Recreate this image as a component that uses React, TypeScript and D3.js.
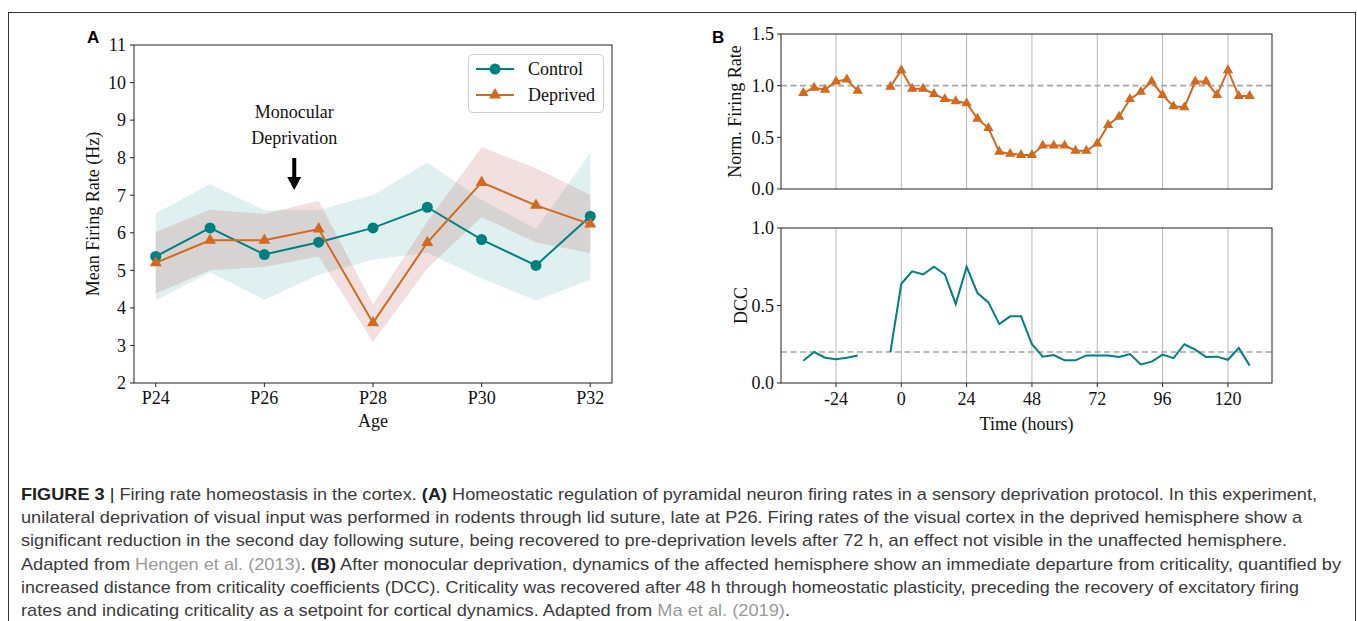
import React from 'react';
import * as d3 from 'd3';

// Panel A: mean firing rate by age
const ages = [24, 25, 26, 27, 28, 29, 30, 31, 32];
const ageTicks = [24, 26, 28, 30, 32];
const rateTicks = [2, 3, 4, 5, 6, 7, 8, 9, 10, 11];
const controlMean = [5.37, 6.13, 5.42, 5.75, 6.13, 6.68, 5.82, 5.13, 6.44];
const controlUpper = [6.52, 7.29, 6.6, 6.61, 7.0, 7.87, 6.88, 6.1, 8.12];
const controlLower = [4.2, 4.95, 4.22, 4.88, 5.28, 5.47, 4.78, 4.2, 4.75];
const deprivedMean = [5.2, 5.8, 5.8, 6.1, 3.6, 5.74, 7.34, 6.73, 6.23];
const deprivedUpper = [6.02, 6.61, 6.5, 6.85, 4.09, 6.3, 8.28, 7.72, 7.01];
const deprivedLower = [4.38, 5.0, 5.09, 5.37, 3.09, 5.05, 6.42, 5.74, 5.46];

// Panel B: time course after deprivation
const hourTicks = [-24, 0, 24, 48, 72, 96, 120];
const normTicks = [0, 0.5, 1.0, 1.5];
const dccTicks = [0, 0.5, 1.0];
const preHours = [-36, -32, -28, -24, -20, -16];
const postHours = [
  -4, 0, 4, 8, 12, 16, 20, 24, 28, 32, 36, 40, 44, 48, 52, 56, 60, 64, 68, 72, 76, 80, 84, 88, 92, 96, 100,
  104, 108, 112, 116, 120, 124, 128,
];
const normRatePre = [0.93, 0.98, 0.96, 1.04, 1.06, 0.95];
const normRatePost = [
  0.99, 1.15, 0.97, 0.97, 0.92, 0.87, 0.85, 0.83, 0.68, 0.59, 0.36, 0.34, 0.33, 0.33, 0.42, 0.42, 0.42, 0.37,
  0.37, 0.44, 0.62, 0.7, 0.87, 0.94, 1.04, 0.91, 0.8, 0.79, 1.04, 1.04, 0.91, 1.15, 0.9, 0.9,
];
const dccPre = [0.144, 0.2, 0.163, 0.153, 0.163, 0.178];
const dccPost = [
  0.2, 0.64, 0.72, 0.7, 0.75, 0.7, 0.51, 0.75, 0.58, 0.52, 0.38, 0.43, 0.43, 0.25, 0.17, 0.18, 0.146, 0.146,
  0.178, 0.178, 0.178, 0.168, 0.187, 0.12, 0.138, 0.183, 0.16, 0.25, 0.215, 0.168, 0.17, 0.15, 0.226, 0.112,
];

const captionLines: [string, string][][] = [
  [
    ['FIGURE 3 ', 'bold'],
    ['| ', 'bar'],
    ['Firing rate homeostasis in the cortex. ', 'plain'],
    ['(A)', 'bold'],
    [' Homeostatic regulation of pyramidal neuron firing rates in a sensory deprivation protocol. In this experiment,', 'plain'],
  ],
  [['unilateral deprivation of visual input was performed in rodents through lid suture, late at P26. Firing rates of the visual cortex in the deprived hemisphere show a', 'plain']],
  [['significant reduction in the second day following suture, being recovered to pre-deprivation levels after 72 h, an effect not visible in the unaffected hemisphere.', 'plain']],
  [
    ['Adapted from ', 'plain'],
    ['Hengen et al. (2013)', 'link'],
    ['. ', 'plain'],
    ['(B)', 'bold'],
    [' After monocular deprivation, dynamics of the affected hemisphere show an immediate departure from criticality, quantified by', 'plain'],
  ],
  [['increased distance from criticality coefficients (DCC). Criticality was recovered after 48 h through homeostatic plasticity, preceding the recovery of excitatory firing', 'plain']],
  [
    ['rates and indicating criticality as a setpoint for cortical dynamics. Adapted from ', 'plain'],
    ['Ma et al. (2019)', 'link'],
    ['.', 'plain'],
  ],
];
const captionEnds = [1317, 1302, 1287, 1341, 1299, 790];

const TEAL = '#008080';
const ORANGE = '#d2691e';
const SERIF = '"Liberation Serif", "Times New Roman", serif';
const SANS = '"Liberation Sans", Arial, sans-serif';

const tri = d3.symbol().type(d3.symbolTriangle);

const PanelA: React.FC = () => {
  const left = 134, right = 612, top = 45, bottom = 383;
  const x = d3.scaleLinear().domain([23.6, 32.4]).range([left, right]);
  const y = d3.scaleLinear().domain([2, 11]).range([bottom, top]);

  const band = (upper: number[], lower: number[]) =>
    d3
      .area<number>()
      .x((d) => x(d))
      .y0((_, i) => y(lower[i]))
      .y1((_, i) => y(upper[i]))(ages) || '';
  const line = (vals: number[]) =>
    d3
      .line<number>()
      .x((d) => x(d))
      .y((_, i) => y(vals[i]))(ages) || '';

  const arrowX = x(26.55);

  return (
    <g>
      <path d={band(controlUpper, controlLower)} fill={TEAL} fillOpacity={0.12} />
      <path d={band(deprivedUpper, deprivedLower)} fill="#a52a2a" fillOpacity={0.145} />
      <path d={line(controlMean)} fill="none" stroke={TEAL} strokeWidth={2} />
      {ages.map((a, i) => (
        <circle key={'c' + a} cx={x(a)} cy={y(controlMean[i])} r={5.5} fill={TEAL} />
      ))}
      <path d={line(deprivedMean)} fill="none" stroke={ORANGE} strokeWidth={2} />
      {ages.map((a, i) => (
        <path key={'d' + a} d={tri.size(62)() || ''} transform={`translate(${x(a)},${y(deprivedMean[i])})`} fill={ORANGE} />
      ))}

      <rect x={left} y={top} width={right - left} height={bottom - top} fill="none" stroke="#222" strokeWidth={1} />
      {rateTicks.map((t) => (
        <g key={'yt' + t}>
          <line x1={left - 4} x2={left} y1={y(t)} y2={y(t)} stroke="#222" />
          <text x={left - 8} y={y(t)} dy="0.35em" textAnchor="end" fontSize={18} fontFamily={SERIF} fill="#111">
            {t}
          </text>
        </g>
      ))}
      {ageTicks.map((t) => (
        <g key={'xt' + t}>
          <line x1={x(t)} x2={x(t)} y1={bottom} y2={bottom + 4} stroke="#222" />
          <text x={x(t)} y={bottom + 21} textAnchor="middle" fontSize={18} fontFamily={SERIF} fill="#111">
            {'P' + t}
          </text>
        </g>
      ))}
      <text x={(left + right) / 2} y={427} textAnchor="middle" fontSize={18} fontFamily={SERIF} fill="#111">
        Age
      </text>
      <text
        transform={`translate(${99},${(top + bottom) / 2}) rotate(-90)`}
        textAnchor="middle"
        fontSize={18}
        fontFamily={SERIF}
        fill="#111"
      >
        Mean Firing Rate (Hz)
      </text>

      <text x={arrowX} y={118} textAnchor="middle" fontSize={18} fontFamily={SERIF} fill="#111">
        Monocular
      </text>
      <text x={arrowX} y={144} textAnchor="middle" fontSize={18} fontFamily={SERIF} fill="#111">
        Deprivation
      </text>
      <rect x={arrowX - 2} y={158} width={4} height={20} fill="#000" />
      <path d={`M${arrowX - 7},177 L${arrowX + 7},177 L${arrowX},190 Z`} fill="#000" />

      <rect x={468.5} y={54.5} width={135} height={58} rx={4} fill="#fff" fillOpacity={0.8} stroke="#cfcfcf" />
      <line x1={476} x2={514} y1={69} y2={69} stroke={TEAL} strokeWidth={2} />
      <circle cx={495} cy={69} r={5.5} fill={TEAL} />
      <text x={528} y={69} dy="0.35em" fontSize={18} fontFamily={SERIF} fill="#111">
        Control
      </text>
      <line x1={476} x2={514} y1={95} y2={95} stroke={ORANGE} strokeWidth={2} />
      <path d={tri.size(62)() || ''} transform={`translate(495,95)`} fill={ORANGE} />
      <text x={528} y={95} dy="0.35em" fontSize={18} fontFamily={SERIF} fill="#111">
        Deprived
      </text>

      <text x={87} y={43} fontSize={17} fontWeight="bold" fontFamily={SANS} fill="#000">
        A
      </text>
    </g>
  );
};

const PanelB: React.FC = () => {
  const left = 781, right = 1272;
  const top1 = 34, bottom1 = 189, top2 = 228, bottom2 = 383;
  const x = d3.scaleLinear().domain([-44.2, 136.2]).range([left, right]);
  const y1 = d3.scaleLinear().domain([0, 1.5]).range([bottom1, top1]);
  const y2 = d3.scaleLinear().domain([0, 1.0]).range([bottom2, top2]);

  const seg = (hours: number[], vals: number[], y: d3.ScaleLinear<number, number>) =>
    d3
      .line<number>()
      .x((d) => x(d))
      .y((_, i) => y(vals[i]))(hours) || '';

  const grid = (top: number, bottom: number) =>
    hourTicks.map((t) => <line key={'g' + t + top} x1={x(t)} x2={x(t)} y1={top} y2={bottom} stroke="#b8b8b8" strokeWidth={1} />);

  const yAxis = (ticks: number[], y: d3.ScaleLinear<number, number>) =>
    ticks.map((t) => (
      <g key={'y' + t + y.range()[0]}>
        <line x1={left - 4} x2={left} y1={y(t)} y2={y(t)} stroke="#222" />
        <text x={left - 7} y={y(t)} dy="0.35em" textAnchor="end" fontSize={18} fontFamily={SERIF} fill="#111">
          {t.toFixed(1)}
        </text>
      </g>
    ));

  return (
    <g>
      {grid(top1, bottom1)}
      <line x1={left} x2={right} y1={y1(1)} y2={y1(1)} stroke="#a8a8a8" strokeWidth={1.6} strokeDasharray="6,3.5" />
      <path d={seg(preHours, normRatePre, y1)} fill="none" stroke={ORANGE} strokeWidth={2} />
      <path d={seg(postHours, normRatePost, y1)} fill="none" stroke={ORANGE} strokeWidth={2} />
      {preHours.concat(postHours).map((h, i) => {
        const v = i < preHours.length ? normRatePre[i] : normRatePost[i - preHours.length];
        return <path key={'n' + h} d={tri.size(46)() || ''} transform={`translate(${x(h)},${y1(v)})`} fill={ORANGE} />;
      })}
      <rect x={left} y={top1} width={right - left} height={bottom1 - top1} fill="none" stroke="#222" />
      {yAxis(normTicks, y1)}
      <text
        transform={`translate(741,${(top1 + bottom1) / 2}) rotate(-90)`}
        textAnchor="middle"
        fontSize={18}
        fontFamily={SERIF}
        fill="#111"
      >
        Norm. Firing Rate
      </text>

      {grid(top2, bottom2)}
      <line x1={left} x2={right} y1={y2(0.2)} y2={y2(0.2)} stroke="#a8a8a8" strokeWidth={1.6} strokeDasharray="6,3.5" />
      <path d={seg(preHours, dccPre, y2)} fill="none" stroke={TEAL} strokeWidth={2} />
      <path d={seg(postHours, dccPost, y2)} fill="none" stroke={TEAL} strokeWidth={2} />
      <rect x={left} y={top2} width={right - left} height={bottom2 - top2} fill="none" stroke="#222" />
      {yAxis(dccTicks, y2)}
      {hourTicks.map((t) => (
        <g key={'xt' + t}>
          <line x1={x(t)} x2={x(t)} y1={bottom2} y2={bottom2 + 4} stroke="#222" />
          <text x={x(t)} y={bottom2 + 22} textAnchor="middle" fontSize={18} fontFamily={SERIF} fill="#111">
            {t}
          </text>
        </g>
      ))}
      <text x={(left + right) / 2} y={430} textAnchor="middle" fontSize={18} fontFamily={SERIF} fill="#111">
        Time (hours)
      </text>
      <text
        transform={`translate(747,${(top2 + bottom2) / 2}) rotate(-90)`}
        textAnchor="middle"
        fontSize={18}
        fontFamily={SERIF}
        fill="#111"
      >
        DCC
      </text>

      <text x={712} y={43} fontSize={17} fontWeight="bold" fontFamily={SANS} fill="#000">
        B
      </text>
    </g>
  );
};

const Caption: React.FC = () => {
  const x0 = 21;
  const baseline0 = 500;
  const step = 23.2;
  return (
    <g fontFamily={SANS} fontSize={17}>
      {captionLines.map((parts, li) => (
        <text
          key={li}
          x={x0}
          y={baseline0 + li * step}
          textLength={captionEnds[li] - x0}
          lengthAdjust="spacingAndGlyphs"
          fill="#3a3a3a"
        >
          {parts.map(([t, s], k) => (
            <tspan
              key={k}
              fontWeight={s === 'bold' ? 'bold' : 'normal'}
              fill={s === 'link' ? '#9a9a9a' : s === 'bold' || s === 'bar' ? '#222' : '#3a3a3a'}
            >
              {t}
            </tspan>
          ))}
        </text>
      ))}
    </g>
  );
};

const App: React.FC = () => {
  return (
    <svg
      width={1357}
      height={621}
      style={{ position: 'absolute', left: 0, top: 0, background: '#fff' }}
    >
      <rect x={8.5} y={12.5} width={1347} height={640} fill="#fff" stroke="#333" strokeWidth={1} />
      <PanelA />
      <PanelB />
      <Caption />
    </svg>
  );
};

export default App;
